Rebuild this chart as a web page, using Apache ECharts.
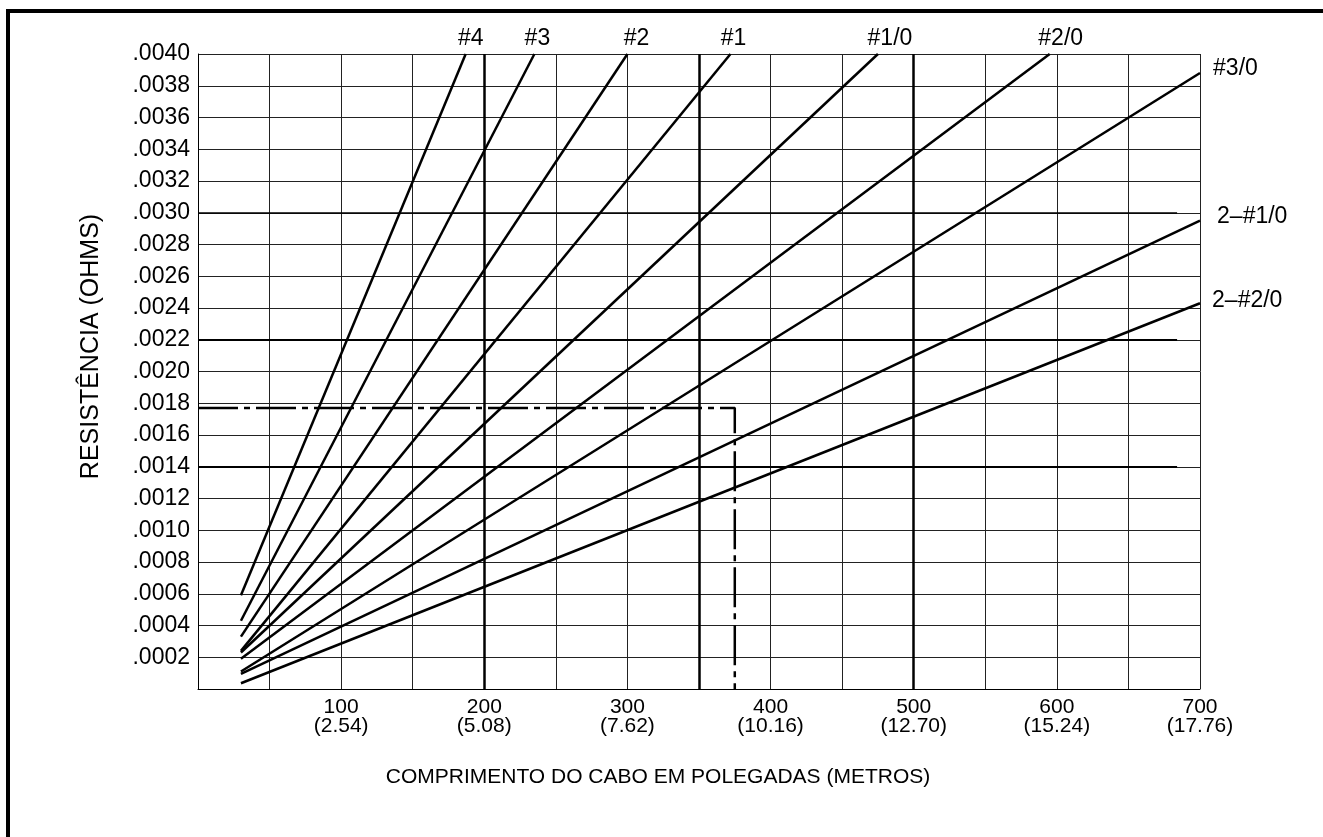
<!DOCTYPE html>
<html>
<head>
<meta charset="utf-8">
<script src="https://cdn.jsdelivr.net/npm/echarts@6/dist/echarts.min.js"></script>
<style>
  html, body { margin: 0; padding: 0; background: #fff; }
  #chart { width: 1323px; height: 837px; }
</style>
</head>
<body>
<div id="chart"></div>
<script>
// ---- data ----
const lineNames = ['#4', '#3', '#2', '#1', '#1/0', '#2/0', '#3/0', '2–#1/0', '2–#2/0'];
const startLength = [30, 30, 30, 30, 30, 30, 30, 30, 30];
const startOhms = [0.00059, 0.00043, 0.00033, 0.00024, 0.00023, 0.00019, 0.00011, 0.000095, 0.000036];
const endLength = [187, 235, 300, 372, 475, 595, 700, 700, 700];
const endOhms = [0.0040, 0.0040, 0.0040, 0.0040, 0.0040, 0.0040, 0.00388, 0.00295, 0.00243];

const xTickInches = [100, 200, 300, 400, 500, 600, 700];
const xTickMeters = ['2.54', '5.08', '7.62', '10.16', '12.70', '15.24', '17.76'];

const heavyLengths = [200, 350, 500];
const heavyOhms = [0.0014, 0.0022, 0.0030];
const heavyOhmsEnd = 684;

const exampleOhms = 0.00177;
const exampleLength = 375;

// ---- chart ----
const FONT = 'Liberation Sans, Arial, sans-serif';
const labelStyle = [
  { position: 'top', distance: 4, offset: [5, 0] },
  { position: 'top', distance: 4, offset: [3, 0] },
  { position: 'top', distance: 4, offset: [9, 0] },
  { position: 'top', distance: 4, offset: [3, 0] },
  { position: 'top', distance: 4, offset: [12, 0] },
  { position: 'top', distance: 4, offset: [11, 0] },
  { position: 'right', distance: 13, offset: [0, -4] },
  { position: 'right', distance: 17, offset: [0, -4] },
  { position: 'right', distance: 12, offset: [0, -3] }
];

const series = lineNames.map((name, i) => ({
  type: 'line',
  name: name,
  symbol: 'circle',
  symbolSize: 0.1,
  showSymbol: true,
  silent: true,
  itemStyle: { color: '#000' },
  lineStyle: { color: '#000', width: 2.5 },
  label: { show: false },
  data: [
    [startLength[i], startOhms[i]],
    {
      value: [endLength[i], endOhms[i]],
      label: Object.assign({
        show: true,
        formatter: name,
        color: '#000',
        fontSize: 23,
        fontFamily: FONT
      }, labelStyle[i])
    }
  ]
}));

// heavy guide lines
series.push({
  type: 'line',
  data: [],
  silent: true,
  markLine: {
    silent: true,
    symbol: ['none', 'none'],
    label: { show: false },
    animation: false,
    data: heavyLengths.map(v => ({ xAxis: v, lineStyle: { color: '#000', width: 2.5, type: 'solid' } }))
      .concat(heavyOhms.map((v, k) => [
        { coord: [0, v], lineStyle: { color: '#000', width: k < 2 ? 2 : 1.5, type: 'solid' } },
        { coord: [heavyOhmsEnd, v] }
      ]))
  }
});

// dash-dot example
series.push({
  type: 'line',
  symbol: 'none',
  silent: true,
  lineStyle: { color: '#000', width: 2.5, type: [40, 6, 6, 6] },
  data: [[0, exampleOhms], [exampleLength, exampleOhms], [exampleLength, 0]]
});

const option = {
  animation: false,
  backgroundColor: '#fff',
  grid: { left: 198, right: 123, top: 54, bottom: 148, containLabel: false },
  graphic: [{
    type: 'rect',
    shape: { x: 8, y: 11, width: 1340, height: 860 },
    style: { fill: 'none', stroke: '#000', lineWidth: 4 },
    silent: true
  }],
  xAxis: {
    type: 'value',
    min: 0, max: 700, interval: 50,
    name: 'COMPRIMENTO DO CABO EM POLEGADAS (METROS)',
    nameLocation: 'middle',
    nameGap: 78,
    nameTextStyle: { color: '#000', fontSize: 21, fontFamily: FONT, padding: [0, 82, 0, 0] },
    axisLine: { show: true, lineStyle: { color: '#000', width: 1 } },
    axisTick: { show: false },
    splitLine: { show: true, lineStyle: { color: '#222', width: 1 } },
    axisLabel: {
      showMinLabel: false, showMaxLabel: true,
      color: '#000', fontSize: 21, fontFamily: FONT, lineHeight: 19, margin: 9,
      formatter: v => {
        const k = xTickInches.indexOf(Math.round(v));
        return k < 0 ? '' : xTickInches[k] + '\n(' + xTickMeters[k] + ')';
      }
    }
  },
  yAxis: {
    type: 'value',
    min: 0, max: 0.004, interval: 0.0002,
    name: 'RESISTÊNCIA (OHMS)',
    nameLocation: 'middle',
    nameRotate: 90,
    nameGap: 94,
    nameTextStyle: { color: '#000', fontSize: 25, fontFamily: FONT, padding: [0, 0, 0, 50] },
    axisLine: { show: true, lineStyle: { color: '#000', width: 1 } },
    axisTick: { show: false },
    splitLine: { show: true, lineStyle: { color: '#222', width: 1 } },
    axisLabel: {
      showMinLabel: true, showMaxLabel: true,
      color: '#000', fontSize: 23, fontFamily: FONT, margin: 8,
      formatter: v => (Math.abs(v) < 1e-9 ? '' : v.toFixed(4).replace(/^0/, ''))
    }
  },
  series: series
};

const chart = echarts.init(document.getElementById('chart'), null, { renderer: 'canvas' });
chart.setOption(option);
</script>
</body>
</html>
